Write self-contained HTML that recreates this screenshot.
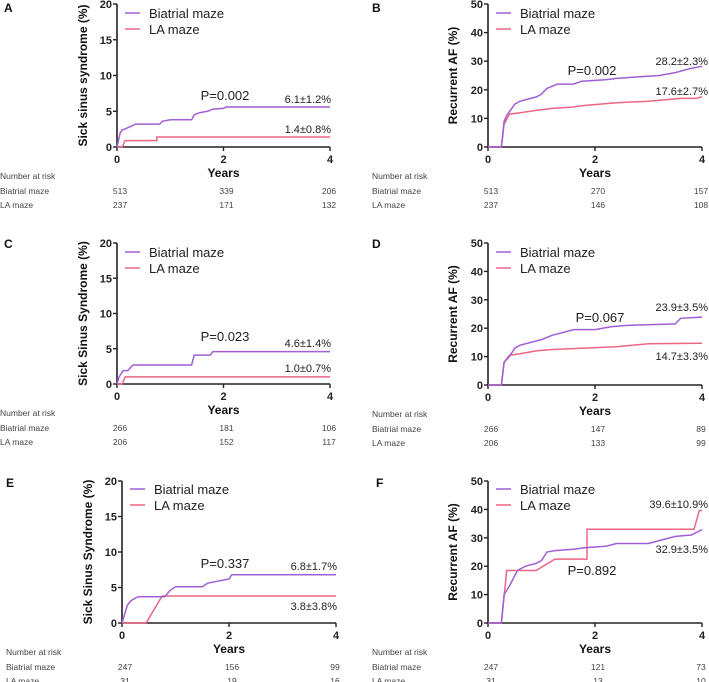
<!DOCTYPE html>
<html><head><meta charset="utf-8"><style>
body{margin:0;background:#fff;}
svg{display:block;font-family:"Liberation Sans",Arial,sans-serif;}
.tk{font-size:11px;font-weight:bold;fill:#222;}
.rk{font-size:8.5px;fill:#444;}
.lg{font-size:13px;fill:#222;}
.an{font-size:11px;fill:#222;}
.pv{font-size:13px;fill:#222;}
.pl{font-size:12px;font-weight:bold;fill:#111;}
</style></head><body>
<svg id="fig" width="709" height="682" viewBox="0 0 709 682"></svg>
<script>
// ---- data (years, cumulative %) ----
const aBiT=[0,0.03,0.06,0.1,0.15,0.2,0.3,0.35,0.8,0.85,1.0,1.4,1.45,1.55,1.7,1.8,2.0,2.05,4];
const aBiV=[0,1.0,2.0,2.4,2.5,2.7,3.0,3.2,3.2,3.6,3.8,3.8,4.5,4.8,5.0,5.3,5.4,5.6,5.6];
const aLaT=[0,0.1,0.15,0.75,0.75,4];
const aLaV=[0,0,0.9,0.9,1.4,1.4];
const bBiT=[0,0.25,0.3,0.35,0.5,0.6,0.8,0.9,1.0,1.1,1.3,1.6,1.75,2.2,2.4,2.8,3.2,3.5,3.8,4];
const bBiV=[0,0,9,11,15,16,17,17.5,18.5,20.5,22,22,23,23.5,24,24.5,25,26,27.5,28.2];
const bLaT=[0,0.25,0.3,0.4,0.6,0.9,1.2,1.6,1.8,2.4,3.0,3.6,3.9,4];
const bLaV=[0,0,8,11.5,12,12.8,13.5,14,14.5,15.5,16,17,17,17.6];
const cBiT=[0,0.04,0.08,0.12,0.2,0.25,0.3,1.4,1.45,1.75,1.8,4];
const cBiV=[0,1.0,1.5,1.9,1.9,2.3,2.7,2.7,4.1,4.1,4.6,4.6];
const cLaT=[0,0.1,0.15,4];
const cLaV=[0,0,1.0,1.0];
const dBiT=[0,0.25,0.3,0.4,0.5,0.6,0.8,1.0,1.2,1.4,1.6,2.0,2.3,2.6,3.5,3.6,4];
const dBiV=[0,0,8,10,13,14,15,16,17.5,18.5,19.5,19.5,20.5,21,21.5,23.5,23.9];
const dLaT=[0,0.25,0.3,0.4,0.6,0.9,1.2,1.8,2.4,3.0,4];
const dLaV=[0,0,8,10.5,11,12,12.5,13,13.5,14.5,14.7];
const eBiT=[0,0.1,0.15,0.2,0.3,0.8,0.9,1.0,1.5,1.6,2.0,2.05,4];
const eBiV=[0,2.5,3.0,3.3,3.7,3.7,4.6,5.1,5.1,5.6,6.2,6.8,6.8];
const eLaT=[0,0.45,0.75,4];
const eLaV=[0,0,3.8,3.8];
const fBiT=[0,0.25,0.3,0.4,0.55,0.7,0.9,1.0,1.1,1.25,1.6,1.8,2.2,2.4,3.0,3.2,3.5,3.8,4];
const fBiV=[0,0,10,13,18.5,20,21,22,25,25.5,26,26.5,27,28,28,29,30.5,31,32.9];
const fLaT=[0,0.25,0.35,0.9,1.25,1.85,1.85,3.85,3.95,4];
const fLaV=[0,0,18.5,18.5,22.5,22.5,33,33,39.6,39.6];
const xTicks=[0,2,4];
const ticksSSS=[0,5,10,15,20];
const ticksAF=[0,10,20,30,40,50];
const riskA=[[513,339,206],[237,171,132]];
const riskB=[[513,270,157],[237,146,108]];
const riskC=[[266,181,106],[206,152,117]];
const riskD=[[266,147,89],[206,133,99]];
const riskE=[[247,156,99],[31,19,16]];
const riskF=[[247,121,73],[31,13,10]];

const NS="http://www.w3.org/2000/svg";
const svg=document.getElementById('fig');
const PUR="#a05fd6", PINK="#ec6683";
function mk(tag,attrs,parent,text){const e=document.createElementNS(NS,tag);for(const k in attrs)e.setAttribute(k,attrs[k]);if(text!==undefined)e.textContent=text;(parent||svg).appendChild(e);return e;}

function panel(p){
  const g=mk('g',{},svg);
  
  
  const xs=v=>p.x0+(v/4)*(p.x1-p.x0);
  const ys=v=>p.y0-(v/p.ymax)*(p.y0-p.yt);
  const L=mk('text',{x:p.lx,y:p.ly,class:'pl'},g,p.letter);
  
  
  const ax=mk('path',{d:`M${p.x0},${p.yt}V${p.y0}H${p.x1}`,stroke:'#222','stroke-width':1.6,fill:'none'},g);
  
  
  p.yticks.forEach(t=>{
    mk('line',{x1:p.x0-4,x2:p.x0,y1:ys(t),y2:ys(t),stroke:'#222','stroke-width':1.4},g);
    const tl=mk('text',{x:p.x0-5,y:ys(t)+4,class:'tk','text-anchor':'end'},g,t);
    
    
  });
  xTicks.forEach(t=>{
    mk('line',{x1:xs(t),x2:xs(t),y1:p.y0,y2:p.y0+4,stroke:'#222','stroke-width':1.4},g);
    const tl=mk('text',{x:xs(t),y:p.y0+16,class:'tk','text-anchor':'middle'},g,t);
    
    
  });
  const xt=mk('text',{x:(p.x0+p.x1)/2,y:p.y0+30,class:'pl','text-anchor':'middle','font-size':'13px'},g,'Years');
  
  
  const cy=(p.yt+p.y0)/2;
  const yt=mk('text',{x:p.ytx,y:cy,class:'pl','text-anchor':'middle',transform:`rotate(-90 ${p.ytx} ${cy})`},g,p.ytitle);
  
  
  [[p.laT,p.laV,PINK,'la-maze-curve'],[p.biT,p.biV,PUR,'biatrial-maze-curve']].forEach(s=>{
    const pts=s[0].map((t,i)=>xs(t).toFixed(1)+','+ys(s[1][i]).toFixed(1)).join(' ');
    const pl=mk('polyline',{points:pts,fill:'none',stroke:s[2],'stroke-width':1.5},g);
    
    
  });
  [['Biatrial maze',PUR,p.legY],['LA maze',PINK,p.legY+16]].forEach(l=>{
    mk('line',{x1:p.x0+8,x2:p.x0+23,y1:l[2],y2:l[2],stroke:l[1],'stroke-width':1.5},g);
    const lt=mk('text',{x:p.x0+32,y:l[2]+5,class:'lg'},g,l[0]);
    
    
  });
  const pv=mk('text',{x:p.pX,y:p.pY,class:'pv','text-anchor':'middle'},g,p.pval);
  
  
  p.notes.forEach(n=>{
    const nt=mk('text',{x:p.nx,y:n[1],class:'an','text-anchor':'end'},g,n[0]);
    
    
  });
  const r0=p.y0+29;
  [['Number at risk',r0],['Biatrial maze',r0+15],['LA maze',r0+29]].forEach(r=>{
    const rt=mk('text',{x:p.rx,y:r[1]+3,class:'rk'},g,r[0]);
    
    
  });
  p.risk.forEach((row,i)=>row.forEach((v,j)=>{
    const rv=mk('text',{x:xs(xTicks[j])+(j===2?-1:3),y:r0+15+i*14+3,class:'rk','text-anchor':'middle'},g,v);
    
    
  }));
}
const SSSa='Sick sinus syndrome (%)', SSS='Sick Sinus Syndrome (%)', AF='Recurrent AF (%)';
panel({letter:'A',lx:4,ly:12,x0:117,x1:330,yt:4,y0:147,ymax:20,yticks:ticksSSS,ytx:87,ytitle:SSSa,biT:aBiT,biV:aBiV,laT:aLaT,laV:aLaV,legY:13,pval:'P=0.002',pX:225,pY:100,nx:331,notes:[['6.1±1.2%',103],['1.4±0.8%',133]],rx:0,risk:riskA});
panel({letter:'B',lx:372,ly:12,x0:488,x1:702,yt:4,y0:147,ymax:50,yticks:ticksAF,ytx:457,ytitle:AF,biT:bBiT,biV:bBiV,laT:bLaT,laV:bLaV,legY:13,pval:'P=0.002',pX:592,pY:75,nx:708,notes:[['28.2±2.3%',65],['17.6±2.7%',95]],rx:372,risk:riskB});
panel({letter:'C',lx:4,ly:248,x0:117,x1:330,yt:243,y0:384,ymax:20,yticks:ticksSSS,ytx:87,ytitle:SSS,biT:cBiT,biV:cBiV,laT:cLaT,laV:cLaV,legY:252,pval:'P=0.023',pX:225,pY:341,nx:331,notes:[['4.6±1.4%',347],['1.0±0.7%',372]],rx:0,risk:riskC});
panel({letter:'D',lx:372,ly:248,x0:488,x1:702,yt:243,y0:385,ymax:50,yticks:ticksAF,ytx:457,ytitle:AF,biT:dBiT,biV:dBiV,laT:dLaT,laV:dLaV,legY:252,pval:'P=0.067',pX:600,pY:322,nx:708,notes:[['23.9±3.5%',311],['14.7±3.3%',360]],rx:372,risk:riskD});
panel({letter:'E',lx:6,ly:487,x0:122,x1:336,yt:481,y0:623,ymax:20,yticks:ticksSSS,ytx:92,ytitle:SSS,biT:eBiT,biV:eBiV,laT:eLaT,laV:eLaV,legY:489,pval:'P=0.337',pX:225,pY:568,nx:337,notes:[['6.8±1.7%',570],['3.8±3.8%',610]],rx:6,risk:riskE});
panel({letter:'F',lx:376,ly:487,x0:488,x1:702,yt:481,y0:623,ymax:50,yticks:ticksAF,ytx:457,ytitle:AF,biT:fBiT,biV:fBiV,laT:fLaT,laV:fLaV,legY:489,pval:'P=0.892',pX:592,pY:575,nx:708,notes:[['39.6±10.9%',508],['32.9±3.5%',553]],rx:372,risk:riskF});
</script>
</body></html>
